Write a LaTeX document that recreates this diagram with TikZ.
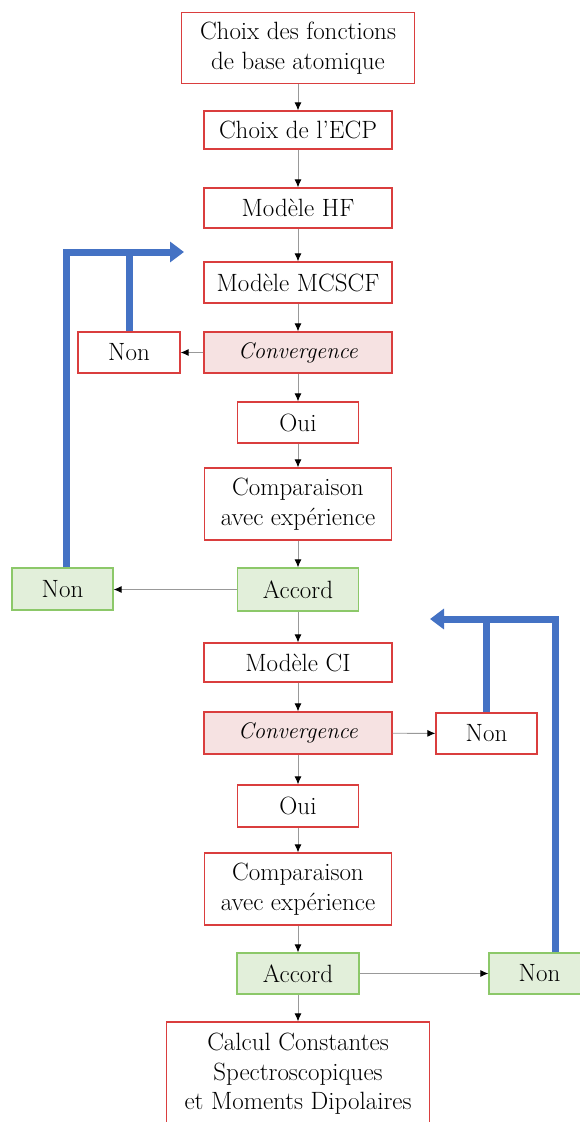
\documentclass[tikz,border=0pt]{standalone}
\usetikzlibrary{arrows.meta}
\definecolor{boxred}{RGB}{218,62,62}
\definecolor{boxpink}{RGB}{246,226,226}
\definecolor{boxgreen}{RGB}{140,200,105}
\definecolor{boxlight}{RGB}{226,239,218}
\definecolor{loopblue}{RGB}{68,114,196}
\begin{document}
\begin{tikzpicture}[x=1pt, y=-1pt, font=\fontsize{25}{29.5}\selectfont,
    box/.style={draw=boxred, line width=1.3pt, fill=white, inner sep=0pt, align=center},
    conv/.style={box, fill=boxpink, font=\fontsize{22.5}{29.5}\selectfont\itshape},
    ok/.style={box, draw=boxgreen, fill=boxlight},
    arr/.style={draw=gray!80, line width=.9pt, -{Latex[black,length=8pt,width=7pt]}},
    loop/.style={draw=loopblue, line width=7pt}]
\useasboundingbox (0,0) rectangle (579,1122);

% first loop : MCSCF
\node[box, minimum width=233pt, minimum height=71pt] (base) at (298,48) {Choix des fonctions\\de base atomique};
\node[box, minimum width=188pt, minimum height=38pt] (ecp) at (298,130) {Choix de l'ECP};
\node[box, minimum width=188pt, minimum height=40pt] (hf) at (298,208) {Modèle HF};
\node[box, minimum width=188pt, minimum height=41pt] (mcscf) at (298,282.5) {Modèle MCSCF};
\node[conv, minimum width=188pt, minimum height=41pt] (conv1) at (298,352.5) {Convergence};
\node[box, minimum width=102pt, minimum height=41pt] (non1) at (129,352.5) {Non};
\node[box, minimum width=121pt, minimum height=41pt] (oui1) at (298,422.5) {Oui};
\node[box, minimum width=187pt, minimum height=72pt] (comp1) at (298,504) {Comparaison\\avec expérience};
\node[ok, minimum width=121pt, minimum height=43pt] (acc1) at (298,589.5) {Accord};
\node[ok, minimum width=101pt, minimum height=42pt] (non2) at (62.5,589) {Non};

% second loop : CI
\node[box, minimum width=188pt, minimum height=39pt] (ci) at (298,662.5) {Modèle CI};
\node[conv, minimum width=188pt, minimum height=42pt] (conv2) at (298,733) {Convergence};
\node[box, minimum width=101pt, minimum height=41pt] (non3) at (486.5,733.5) {Non};
\node[box, minimum width=121pt, minimum height=42pt] (oui2) at (298,806) {Oui};
\node[box, minimum width=187pt, minimum height=72pt] (comp2) at (298,889) {Comparaison\\avec expérience};
\node[ok, minimum width=122pt, minimum height=41pt] (acc2) at (298,973.5) {Accord};
\node[ok, minimum width=101pt, minimum height=41pt] (non4) at (539.5,973.5) {Non};
\node[box, minimum width=263pt, minimum height=104pt] (calc) at (298,1074) {Calcul Constantes\\Spectroscopiques\\et Moments Dipolaires};

\draw[arr] (base) -- (ecp);
\draw[arr] (ecp) -- (hf);
\draw[arr] (hf) -- (mcscf);
\draw[arr] (mcscf) -- (conv1);
\draw[arr] (conv1) -- (oui1);
\draw[arr] (oui1) -- (comp1);
\draw[arr] (comp1) -- (acc1);
\draw[arr] (acc1) -- (ci);
\draw[arr] (ci) -- (conv2);
\draw[arr] (conv2) -- (oui2);
\draw[arr] (oui2) -- (comp2);
\draw[arr] (comp2) -- (acc2);
\draw[arr] (acc2) -- (calc);
\draw[arr] (conv1) -- (non1);
\draw[arr] (acc1.west) -- (acc1.west -| non2.east);
\draw[arr] (conv2) -- (non3);
\draw[arr] (acc2) -- (non4);

% blue returns
\coordinate (tipL) at (184,252);
\coordinate (tipR) at (430,619);
\draw[loop, -{Triangle[length=14pt,width=20pt]}] ([xshift=3.5pt]non2.north) |- (tipL);
\draw[loop] (non1.north) -- (non1.north |- tipL);
\draw[loop, -{Triangle[length=14pt,width=20pt]}] ([xshift=15.5pt]non4.north) |- (tipR);
\draw[loop] (non3.north) -- (non3.north |- tipR);
\end{tikzpicture}
\end{document}
